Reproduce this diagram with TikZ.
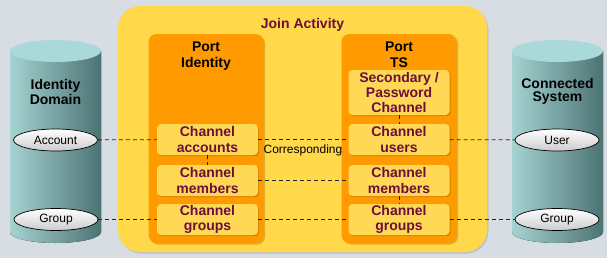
\documentclass[tikz,border=0pt]{standalone}
\usepackage{fontspec}
\setmainfont{Liberation Sans}
\usetikzlibrary{shapes.geometric,shadows}
\definecolor{backdrop}{HTML}{D8DDE3}
\definecolor{joinyel}{HTML}{FFD94A}
\definecolor{portorg}{HTML}{FF9A00}
\definecolor{chanyel}{HTML}{FFD955}
\definecolor{chantext}{HTML}{6A0F3E}
\definecolor{cyllight}{HTML}{A6D2D2}
\definecolor{cyldark}{HTML}{4C7373}
\definecolor{cyltop}{HTML}{A9D9D9}
\tikzset{
  % outer activity frame and the two port columns
  joinbox/.style={fill=joinyel, rounded corners=22pt, minimum width=369pt, minimum height=246pt,
                  drop shadow={shadow xshift=1.5pt, shadow yshift=-1.5pt, fill=black, opacity=.12}},
  portbox/.style={fill=portorg, rounded corners=8pt, minimum width=115pt, minimum height=209pt,
                  drop shadow={shadow xshift=1.5pt, shadow yshift=-1.5pt, fill=portorg!60!black, opacity=.35}},
  chan/.style={fill=chanyel, rounded corners=4pt, minimum width=101pt, minimum height=31pt, inner sep=0pt,
               align=center, text=chantext, font=\bfseries\fontsize{14}{15.5}\selectfont,
               drop shadow={shadow xshift=1.2pt, shadow yshift=-1.2pt, fill=portorg!70!black, opacity=.5}},
  rec/.style={ellipse, draw=black, line width=.7pt, top color=white, bottom color=black!20,
              minimum width=84pt, minimum height=22pt, inner sep=0pt, font=\fontsize{12}{14}\selectfont},
  title/.style={align=center, font=\bfseries\fontsize{14}{16}\selectfont},
  link/.style={dash pattern=on 4pt off 3pt, line width=.8pt, black!85},
}

\begin{document}
\begin{tikzpicture}[x=1pt,y=-1pt]
  \fill[backdrop] (0,0) rectangle (607,258);

  % data stores
  \foreach \cx in {55.5,557.5}{
    \fill[left color=cyllight, right color=cyldark] (\cx-45.5,51) -- (\cx-45.5,232)
      arc[start angle=180, end angle=0, x radius=45.5, y radius=11] -- (\cx+45.5,51) -- cycle;
    \fill[cyltop] (\cx,51) ellipse[x radius=45.5, y radius=11];
  }
  \node[title, font=\bfseries\fontsize{14}{15}\selectfont] (idtitle) at (55.5,92) {Identity\\Domain};
  \node[title, font=\bfseries\fontsize{14}{13.5}\selectfont] (cstitle) at (557.5,91.5) {Connected\\System};

  \node[joinbox] (join) at (302.5,129) {};
  \node[title, text=chantext] (jointitle) at (302.5,25) {Join Activity};

  \node[portbox] (portid) at (206,138.5) {};
  \node[portbox] (portts) at (399,138.5) {};
  \node[title] (portidtitle) at (206,56) {Port\\Identity};
  \node[title] (porttstitle) at (399,55) {Port\\TS};

  \node[chan] (accounts) at (207.5,139.5) {Channel\\accounts};
  \node[chan] (membersid) at (207.5,180.5) {Channel\\members};
  \node[chan] (groupsid) at (207.5,219.5) {Channel\\groups};
  \node[chan, minimum height=45pt, font=\bfseries\fontsize{14}{15}\selectfont] (secondary) at (399,92.5) {Secondary /\\Password\\Channel};
  \node[chan] (users) at (399,139.5) {Channel\\users};
  \node[chan] (membersts) at (399,180.5) {Channel\\members};
  \node[chan] (groupsts) at (399,219.5) {Channel\\groups};

  \node[rec] (account) at (55.5,140) {Account};
  \node[rec] (groupid) at (56,219.5) {Group};
  \node[rec] (user) at (557,140) {User};
  \node[rec] (groupcs) at (557,219.5) {Group};

  \draw[link] (account) -- (accounts);
  \draw[link] (groupid) -- (groupsid);
  \draw[link] (accounts) -- (users);
  \draw[link] (membersid) -- (membersts);
  \draw[link] (groupsid) -- (groupsts);
  \draw[link] (users) -- (user);
  \draw[link] (groupsts) -- (groupcs);
  \draw[link] (accounts) -- (membersid);
  \draw[link] (secondary) -- (users);
  \draw[link] (membersts) -- (groupsts);
  \node[font=\fontsize{12}{14}\selectfont] (corresp) at (303,150) {Corresponding};
\end{tikzpicture}
\end{document}
